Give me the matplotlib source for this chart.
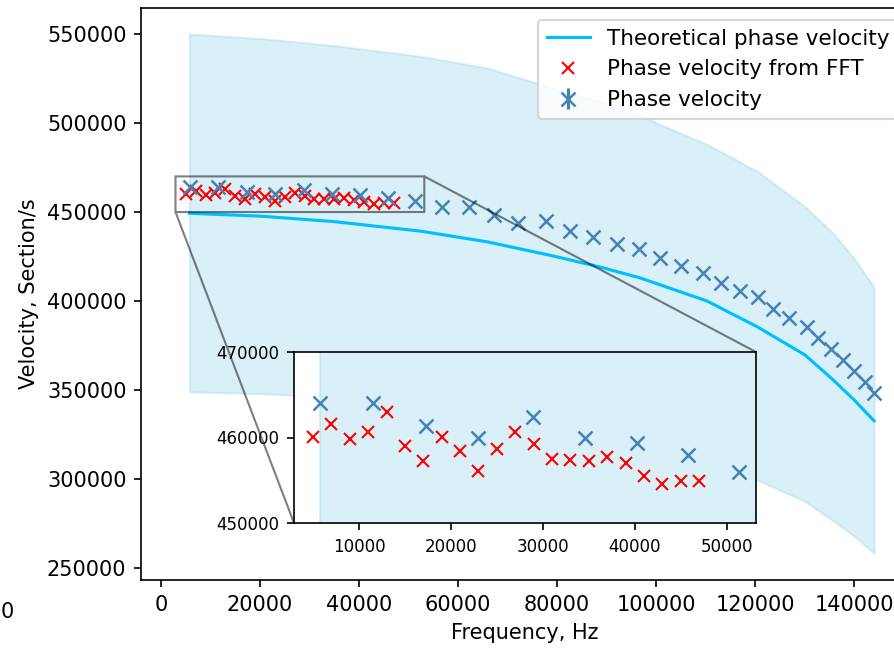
import matplotlib.pyplot as plt

# theoretical curve and its band
theory_freq = [5760, 20000, 35000, 52320, 65800, 79250, 88690, 96770,
               110300, 120400, 130100, 135820, 140000, 144040]
theory_vel = [449300, 447700, 444600, 439300, 433300, 425300, 419100, 413000,
              400000, 385600, 369700, 355600, 344500, 332700]
band_upper = [550000, 547500, 543500, 537500, 531000, 519500, 512000, 504000,
              488000, 473000, 453000, 438000, 424000, 407800]
band_lower = [349000, 348000, 346000, 342000, 338000, 331000, 326000, 321000,
              311000, 299500, 287500, 276500, 268000, 258300]

# phase velocity from FFT (red)
fft_freq = [5000, 7000, 9000, 11000, 13000, 15000, 17000, 19000, 21000, 23000, 25000,
            27000, 29000, 31000, 33000, 35000, 37000, 39000, 41000, 43000, 45000, 47000]
fft_vel = [460100, 461600, 459800, 460700, 463000, 459000, 457300, 460100, 458400, 456100, 458600,
           460700, 459200, 457500, 457400, 457300, 457700, 457000, 455500, 454600, 454900, 454900]

# measured phase velocity (blue)
pv_freq = [5760, 11560, 17290, 22980, 28970, 34590, 40220, 45830, 51380,
           56710, 62280, 67270, 72180, 77780, 82530, 87270, 92120, 96460,
           100810, 105110, 109490, 113130, 116870, 120610, 123700, 126930,
           130440, 132790, 135350, 137840, 140060, 142220, 144040]
pv_vel = [464000, 464000, 461400, 460000, 462400, 460000, 459400, 458000, 456000,
          453000, 452600, 448300, 444000, 444900, 439500, 435800, 432000, 429000,
          424200, 419900, 416000, 410300, 405600, 402000, 395500, 390300,
          385600, 379000, 372900, 366900, 360800, 354700, 348100]
pv_err = [0] * len(pv_freq)

fig = plt.figure(figsize=(894 / 150, 649 / 150), dpi=150)
ax = fig.add_axes([141 / 894, 69 / 649, 767.5 / 894, 572 / 649])


def draw(a, ms=6):
    a.fill_between(theory_freq, band_lower, band_upper, color='skyblue', alpha=0.3)
    a.plot(theory_freq, theory_vel, color='deepskyblue', label='Theoretical phase velocity')
    a.plot(fft_freq, fft_vel, 'x', color='red', markersize=ms, label='Phase velocity from FFT')
    a.errorbar(pv_freq, pv_vel, yerr=pv_err, fmt='x', color='steelblue',
               markersize=ms + 1, mew=1.2, label='Phase velocity')


draw(ax)
ax.set_xlim(-4040, 151000)
ax.set_ylim(243300, 564600)
ax.set_xlabel('Frequency, Hz')
ax.set_ylabel('Velocity, Section/s')
ax.legend(loc='upper left', bbox_to_anchor=(538 / 894, 1 - 20 / 649),
          bbox_transform=fig.transFigure, borderaxespad=0, fontsize=10.3)

axins = ax.inset_axes([294 / 894, 126 / 649, 462 / 894, 171 / 649], transform=fig.transFigure)
draw(axins)
axins.set_xlim(2930, 53190)
axins.set_ylim(450000, 470000)
axins.set_xticks([10000, 20000, 30000, 40000, 50000])
axins.set_yticks([450000, 460000, 470000])
axins.ticklabel_format(useOffset=False, style='plain')
axins.tick_params(labelsize=8)
ind = ax.indicate_inset_zoom(axins, edgecolor='black')
# show lower-left and upper-right connectors only
for c, vis in zip(ind.connectors, [True, False, False, True]):
    c.set_visible(vis)

fig.text(0.5 / 894, 1 - 612 / 649, '0', ha='left', va='center', fontsize=10)

fig.savefig('out.png', dpi=150)
